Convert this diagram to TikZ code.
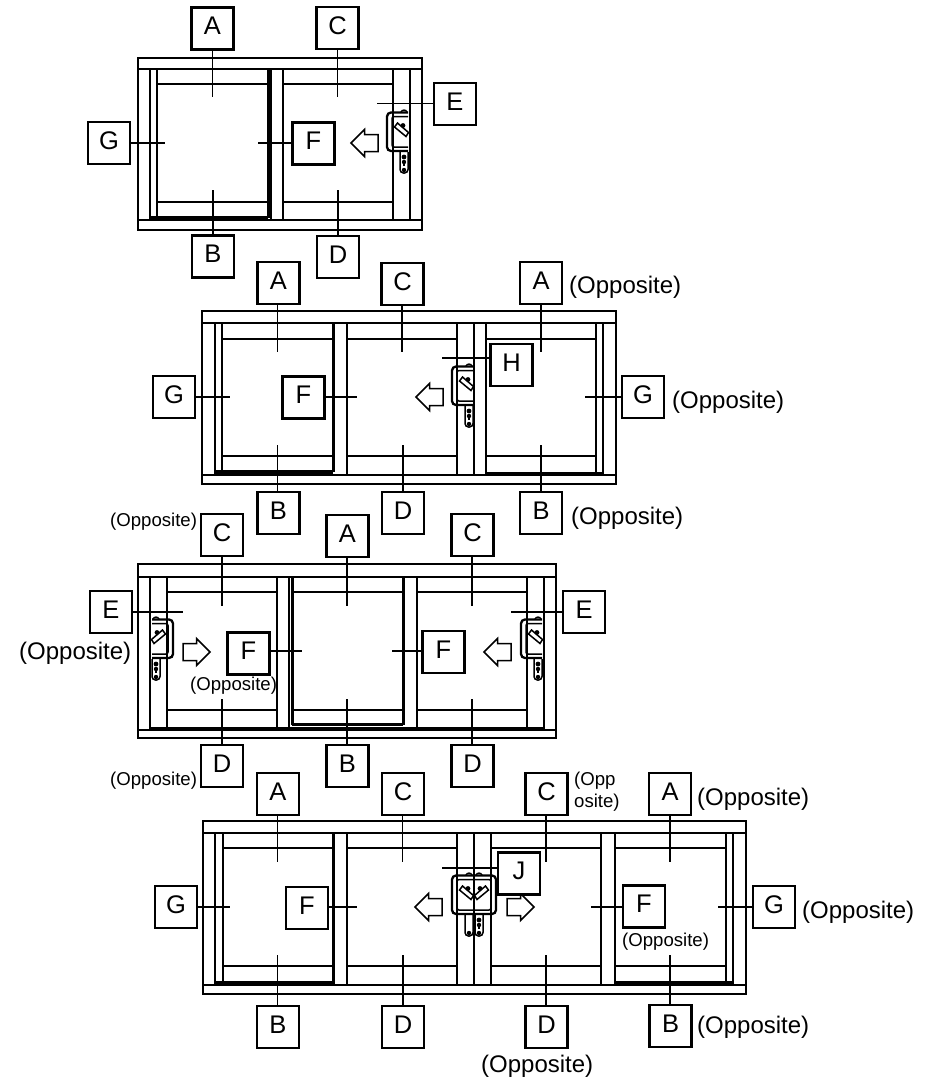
\documentclass[tikz,border=0pt]{standalone}
\usepackage{fontspec}
\setmainfont{Liberation Sans}
\tikzset{
  lbl/.style={draw=black,fill=white,line width=2.2pt,minimum size=42pt,inner sep=0pt,text height=18pt,text depth=6pt,font=\fontsize{25.5}{25.5}\selectfont},
  conn/.style={line width=1.3pt},
  outerline/.style={line width=1.9pt},
  frameline/.style={line width=1.4pt},
  thickline/.style={line width=3pt},
  barline/.style={line width=3.6pt},
  arrowbody/.style={line width=1.5pt,fill=white,line join=miter},
  hbar/.style={line width=2.3pt,rounded corners=4pt},
  hthin/.style={line width=1.5pt},
  bigtxt/.style={inner sep=0pt,font=\fontsize{24}{26}\selectfont},
  smalltxt/.style={inner sep=0pt,font=\fontsize{18.6}{22}\selectfont,align=left},
}
% id, text, cx, cy, anchor, free end x, y
\newcommand\vcall[7]{\node[lbl] (#1) at (#3,#4) {#2};\coordinate (#1e) at (#6,#7);\draw[conn] (#1e |- #1.#5) -- (#1e);}
\newcommand\hcall[7]{\node[lbl] (#1) at (#3,#4) {#2};\coordinate (#1e) at (#6,#7);\draw[conn] (#1e -| #1.#5) -- (#1e);}
% x1 x2 y1 y(top inner) y(bottom inner) y2
\newcommand\outerframe[6]{\draw[outerline] (#1,#3) rectangle (#2,#6);\draw[frameline] (#1,#4) -- (#2,#4) (#1,#5) -- (#2,#5);}
\newcommand\vln[3]{\draw[frameline] (#1,#2) -- (#1,#3);}
\newcommand\tran[3]{\draw[frameline] (#1,#3) -- (#2,#3);}
% tip x, y, direction (+1 points left)
\newcommand\slidearrow[3]{\begin{scope}[shift={(#1,#2)},xscale=#3]
 \draw[arrowbody] (0,0) -- (13.5,-13.5) -- (13.5,-8.5) -- (27,-8.5) -- (27,8.5) -- (13.5,8.5) -- (13.5,13.5) -- cycle;
\end{scope}}
% x, y, mirror, keyhole
\newcommand\handle[4]{\begin{scope}[shift={(#1,#2)},xscale=#3]
 \draw[hbar] (21,0.5) -- (0,0.5) -- (0,39) -- (21,39);
 \draw[hthin,rounded corners=2pt] (21,4.5) -- (5,4.5) -- (5,35) -- (21,35);
 \draw[hthin] (14,0) .. controls (15,-2.5) and (19,-2.5) .. (20,0);
 \draw[hthin,fill=white] (7.5,15) -- (10.5,11) -- (21.5,20.5) -- (19,24.5) -- cycle;
 \fill (16,13.5) circle (2.4pt);
 \draw[hthin,rounded corners=3.5pt] (13,40) -- (13,61) -- (21,61) -- (21,40);
 \fill (17,58) circle (2.2pt);
 \ifnum#4=1 \fill (17,45) circle (2.4pt);\fill (17,50) circle (2.2pt);\draw[line width=1.8pt] (17,50) -- (17,54);\fi
\end{scope}}
\begin{document}
\begin{tikzpicture}[x=1pt,y=-1pt]
\useasboundingbox (0,0) rectangle (937,1077);
\fill[white] (0,0) rectangle (937,1077);

%% ---------- Frame 1
\outerframe{138}{422}{58}{69}{220}{230}
\foreach \x in {150,157,271,283,393,410}{\vln{\x}{69}{220}}
\draw[thickline] (268,69) -- (268,218);
\tran{157}{268}{84}\tran{157}{268}{202}
\tran{283}{393}{84}\tran{283}{393}{202}
\draw[barline] (150,218) -- (268,218);
\slidearrow{351}{143}{1}
\handle{387}{112}{1}{1}
\vcall{a1}{A}{212.5}{28.5}{south}{212.5}{97}
\vcall{c1}{C}{337.5}{28}{south}{337.5}{97}
\hcall{e1}{E}{455}{104}{west}{377}{103.5}
\hcall{f1}{F}{313.5}{143.5}{west}{258}{143}
\hcall{g1}{G}{109}{143}{east}{165}{143}
\vcall{b1}{B}{213}{256.5}{north}{213}{190}
\vcall{d1}{D}{338}{257}{north}{338}{190}

%% ---------- Frame 2
\outerframe{202}{616}{311}{323}{475}{484}
\foreach \x in {215,222,347,457,474,486,596,603}{\vln{\x}{323}{475}}
\draw[thickline] (333,323) -- (333,472);
\tran{222}{333}{339}\tran{222}{333}{456}
\tran{347}{457}{339}\tran{347}{457}{456}
\tran{486}{596}{339}\tran{486}{596}{456}
\draw[barline] (215,472) -- (333,472);
\draw[barline] (486,473.5) -- (603,473.5);
\slidearrow{416}{397}{1}
\handle{452}{366}{1}{1}
\vcall{a2}{A}{278.5}{283}{south}{277.5}{352}
\vcall{c2}{C}{402.5}{284}{south}{402}{352}
\vcall{a2o}{A}{541}{283}{south}{541}{352}
\hcall{f2}{F}{303.5}{397.5}{east}{357}{397}
\hcall{g2}{G}{174}{397}{east}{230}{397}
\hcall{g2o}{G}{643}{397}{west}{585}{397}
\hcall{h2}{H}{511.5}{365}{west}{442}{358}
\vcall{b2}{B}{278.5}{513}{north}{277.5}{445}
\vcall{d2}{D}{403}{513}{north}{403}{445}
\vcall{b2o}{B}{541}{513}{north}{541}{445}
\node[bigtxt,anchor=west] (t1) at (569,287) {(Opposite)};
\node[bigtxt,anchor=west] (t2) at (672,402) {(Opposite)};
\node[bigtxt,anchor=west] (t3) at (571,518) {(Opposite)};

%% ---------- Frame 3
\outerframe{138}{556}{564}{577}{730}{738}
\foreach \x in {150,167,277,289,417,527,544}{\vln{\x}{577}{729}}
\draw[thickline] (292,577) -- (292,725);
\draw[thickline] (403,577) -- (403,725);
\tran{167}{277}{592}\tran{167}{277}{710}
\tran{292}{403}{592}\tran{292}{403}{710}
\tran{417}{527}{592}\tran{417}{527}{710}
\draw[thickline] (292,724.5) -- (403,724.5);
\tran{150}{544}{728}
\slidearrow{210}{652}{-1}
\slidearrow{484}{652}{1}
\handle{173}{619}{-1}{1}
\handle{521}{619}{1}{1}
\vcall{c3}{C}{222}{535}{south}{222}{606}
\vcall{a3}{A}{347.5}{536}{south}{347}{606}
\vcall{c3o}{C}{472.5}{535}{south}{472}{606}
\hcall{e3}{E}{111}{612}{east}{183}{612}
\hcall{e3o}{E}{584}{612}{west}{511}{612}
\hcall{f3}{F}{248.5}{653.5}{east}{302}{651}
\hcall{f3o}{F}{443.5}{652}{west}{392}{651}
\vcall{d3}{D}{222}{766}{north}{222}{699}
\vcall{b3}{B}{347.5}{766}{north}{347}{699}
\vcall{d3o}{D}{472.5}{766}{north}{472}{699}
\node[smalltxt,anchor=west] (t4) at (110,521.5) {(Opposite)};
\node[bigtxt,anchor=west] (t5) at (19,653) {(Opposite)};
\node[smalltxt,anchor=west] (t6) at (190,686) {(Opposite)};
\node[smalltxt,anchor=west] (t7) at (110,780.5) {(Opposite)};

%% ---------- Frame 4
\outerframe{203}{746}{821}{833}{985}{994}
\foreach \x in {215,223,347,457,474,491,601,615,726,733}{\vln{\x}{833}{985}}
\draw[thickline] (333,833) -- (333,984);
\draw[line width=2.2pt] (474,875) -- (474,935);
\tran{223}{333}{848}\tran{223}{333}{966}
\tran{347}{457}{848}\tran{347}{457}{966}
\tran{491}{601}{848}\tran{491}{601}{966}
\tran{615}{726}{848}\tran{615}{726}{966}
\draw[barline] (215,983) -- (333,983);
\draw[barline] (615,983) -- (733,983);
\slidearrow{415}{907}{1}
\slidearrow{534}{907}{-1}
\handle{452}{875}{1}{0}
\handle{496}{875}{-1}{1}
\vcall{a4}{A}{278}{794}{south}{277.5}{862}
\vcall{c4}{C}{403}{794}{south}{402.5}{862}
\vcall{c4o}{C}{546.5}{794}{south}{546}{862}
\vcall{a4o}{A}{670}{794}{south}{670}{862}
\hcall{j4}{J}{519}{873.5}{west}{442}{868}
\hcall{f4}{F}{307}{908}{east}{357}{907}
\hcall{f4o}{F}{644}{906.5}{west}{591}{907}
\hcall{g4}{G}{176}{907}{east}{230}{907}
\hcall{g4o}{G}{774}{907}{west}{718}{907}
\vcall{b4}{B}{278}{1027}{north}{277.5}{955}
\vcall{d4}{D}{403}{1027}{north}{403}{955}
\vcall{d4o}{D}{546.5}{1027}{north}{546}{955}
\vcall{b4o}{B}{670.5}{1026}{north}{670}{955}
\node[smalltxt,anchor=west] (t8) at (574,792) {(Opp\\osite)};
\node[bigtxt,anchor=west] (t9) at (697,799) {(Opposite)};
\node[bigtxt,anchor=west] (t10) at (802,912) {(Opposite)};
\node[smalltxt,anchor=west] (t11) at (622,942) {(Opposite)};
\node[bigtxt,anchor=west] (t12) at (697,1027) {(Opposite)};
\node[bigtxt,anchor=west] (t13) at (481,1066) {(Opposite)};
\end{tikzpicture}
\end{document}
